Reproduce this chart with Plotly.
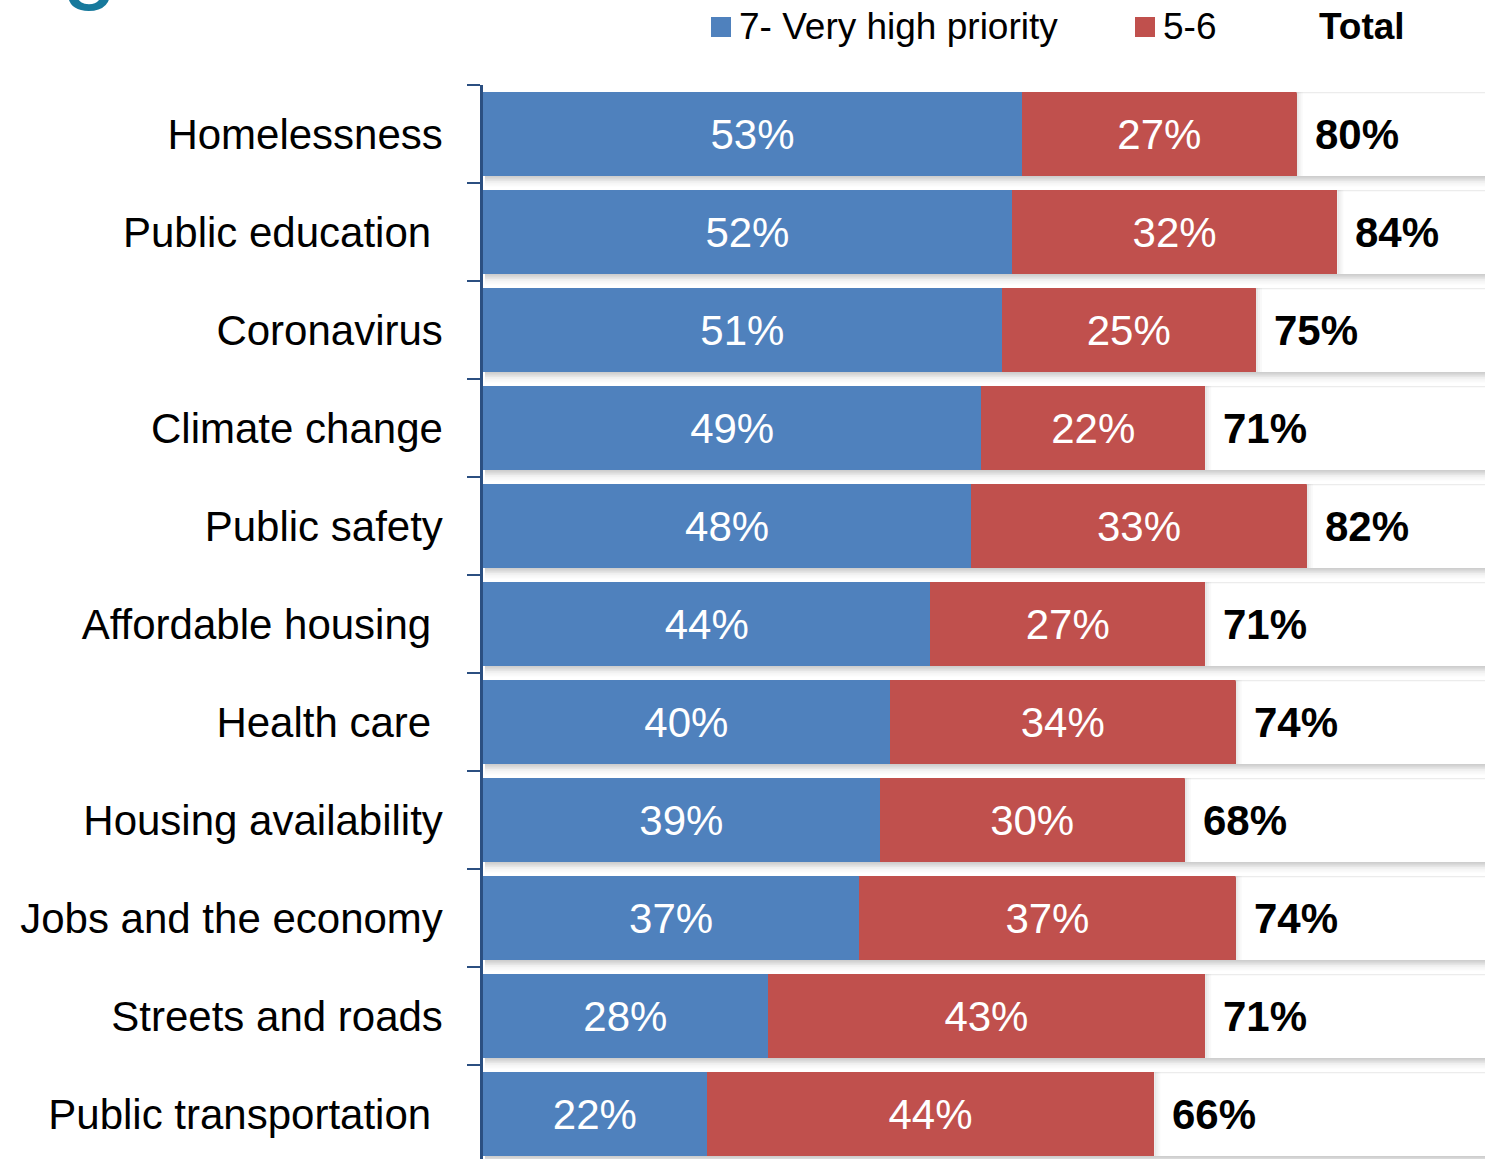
import plotly.graph_objects as go

# ---- data ----
categories = ["Homelessness", "Public education", "Coronavirus", "Climate change",
              "Public safety", "Affordable housing", "Health care", "Housing availability",
              "Jobs and the economy", "Streets and roads", "Public transportation"]
tick_labels = ["Homelessness", "Public education\u00a0", "Coronavirus", "Climate change",
               "Public safety", "Affordable housing\u00a0", "Health care\u00a0", "Housing availability",
               "Jobs and the economy", "Streets and roads", "Public transportation\u00a0"]
very_high = [53, 52, 51, 49, 48, 44, 40, 39, 37, 28, 22]
five_six = [27, 32, 25, 22, 33, 27, 34, 30, 37, 43, 44]
totals = [80, 84, 75, 71, 82, 71, 74, 68, 74, 71, 66]
series_names = ["7- Very high priority", "5-6"]
full_scale = 100

BLUE = "#4F81BD"
RED = "#C0504D"
AXIS = "#2B4F81"
FONT = "Arial, Liberation Sans, sans-serif"

W, H = 1485, 1159
L, T = 483, 85
n = len(categories)
bar_w = 0.857
half = bar_w / 2
unit_px = 10.17              # pixels per percentage point in the reference
row_px = 98.0                # pixels per category in the reference
plot_w = W - L
plot_h = H - T

stack_end = [b + r for b, r in zip(very_high, five_six)]
rest = [full_scale - s for s in stack_end]

fig = go.Figure()
fig.add_trace(go.Bar(y=tick_labels, x=very_high, orientation="h", name=series_names[0],
                     marker=dict(color=BLUE, line=dict(width=0)),
                     texttemplate="%{x}%", textposition="inside", insidetextanchor="middle",
                     textfont=dict(color="white", size=42, family=FONT),
                     constraintext="none", textangle=0, hoverinfo="skip"))
fig.add_trace(go.Bar(y=tick_labels, x=five_six, orientation="h", name=series_names[1],
                     marker=dict(color=RED, line=dict(width=0)),
                     texttemplate="%{x}%", textposition="inside", insidetextanchor="middle",
                     textfont=dict(color="white", size=42, family=FONT),
                     constraintext="none", textangle=0, hoverinfo="skip"))
fig.add_trace(go.Bar(y=tick_labels, x=rest, orientation="h", name="rest",
                     marker=dict(color="white", line=dict(width=0)),
                     hoverinfo="skip", showlegend=False))

# shadows (drop-shadow effect under each bar)
shapes = []
px = 1.0 / row_px
shadow_ops = [0.34, 0.26, 0.18, 0.11, 0.06, 0.03]
for i in range(n):
    yb = i + half
    for k, op in enumerate(shadow_ops):
        shapes.append(dict(type="rect", xref="x", yref="y", layer="below",
                           x0=0.2, x1=full_scale, y0=yb + k * 1.7 * px, y1=yb + (k + 1) * 1.7 * px,
                           fillcolor="#6e6e6e", opacity=op, line=dict(width=0)))
    shapes.append(dict(type="rect", xref="x", yref="y", layer="above",
                       x0=stack_end[i], x1=full_scale, y0=i - half, y1=i - half + 1.2 * px,
                       fillcolor="#ececec", line=dict(width=0)))
    for k, op in enumerate([0.16, 0.09, 0.04]):
        shapes.append(dict(type="rect", xref="x", yref="y", layer="above",
                           x0=stack_end[i] + k * 0.2, x1=stack_end[i] + (k + 1) * 0.2,
                           y0=i - half, y1=i + half,
                           fillcolor="#6e6e6e", opacity=op, line=dict(width=0)))

annotations = []
for i in range(n):
    annotations.append(dict(x=stack_end[i], y=tick_labels[i], xref="x", yref="y",
                            text=f"<b>{totals[i]}%</b>", showarrow=False,
                            xanchor="left", yanchor="middle", xshift=16,
                            font=dict(size=42, color="black", family=FONT)))

# custom legend (positions given in page pixels)
def pxx(p):
    return (p - L) / plot_w
def pxy(p):
    return (H - p) / plot_h

legend_items = [(711, BLUE, series_names[0]), (1135, RED, series_names[1])]
for x0, col, name in legend_items:
    shapes.append(dict(type="rect", xref="paper", yref="paper",
                       x0=pxx(x0), x1=pxx(x0 + 20), y0=pxy(37), y1=pxy(17),
                       fillcolor=col, line=dict(width=0)))
    annotations.append(dict(x=pxx(x0 + 26), y=pxy(26), xref="paper", yref="paper",
                            text=name, showarrow=False, xanchor="left", yanchor="middle",
                            font=dict(size=37, color="black", family=FONT)))
annotations.append(dict(x=pxx(1317), y=pxy(26), xref="paper", yref="paper",
                        text="<b>Total</b>", showarrow=False, xanchor="left", yanchor="middle",
                        font=dict(size=37, color="black", family=FONT)))

# clipped title descender at top-left (as in the reference)
annotations.append(dict(x=pxx(90), y=1, xref="paper", yref="paper", yshift=T - 13,
                        text="g", showarrow=False, xanchor="center", yanchor="bottom",
                        font=dict(size=100, color="#17799C", family=FONT)))

fig.update_layout(
    width=W, height=H,
    margin=dict(l=L, r=0, t=T, b=0, pad=0),
    barmode="stack", bargap=1 - bar_w,
    plot_bgcolor="white", paper_bgcolor="white",
    showlegend=False,
    shapes=shapes, annotations=annotations,
    font=dict(family=FONT, color="black"),
    xaxis=dict(range=[0, plot_w / unit_px], visible=False, showgrid=False,
               zeroline=False, fixedrange=True),
    yaxis=dict(type="category", categoryorder="array", categoryarray=tick_labels,
               range=[plot_h / row_px - 0.5, -0.5], tickson="boundaries",
               ticks="outside", ticklen=13, tickwidth=2, tickcolor=AXIS,
               showline=True, linecolor=AXIS, linewidth=2.5, fixedrange=True,
               showgrid=False, zeroline=False, ticklabelstandoff=29,
               tickfont=dict(size=42, color="black", family=FONT)),
)

fig.write_html("out.html", config=dict(displayModeBar=False),
               post_script="document.body.style.margin='0';document.body.style.overflow='hidden';")
